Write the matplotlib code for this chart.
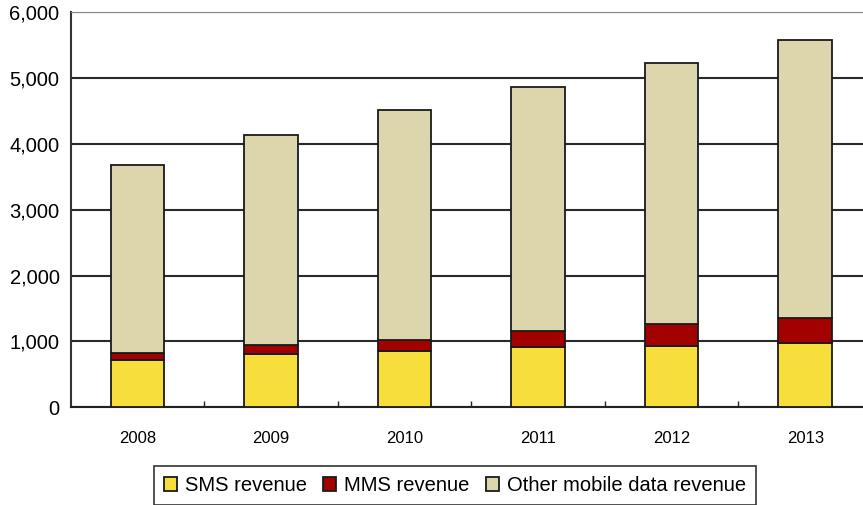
import matplotlib.pyplot as plt
import numpy as np

# Datos (millones)
years = ['2008', '2009', '2010', '2011', '2012', '2013']
sms = [720, 803, 860, 910, 933, 970]
mms = [98, 150, 163, 245, 335, 380]
other = [2855, 3175, 3490, 3700, 3965, 4230]
yticks = [0, 1000, 2000, 3000, 4000, 5000, 6000]

plt.rcParams['font.family'] = ['Liberation Sans', 'DejaVu Sans']

fig = plt.figure(figsize=(8.63, 5.05), dpi=100)
ax = fig.add_axes([0.0819, 0.1935, 0.9285, 0.7826])

x = np.arange(len(years))
w = 0.4
ax.bar(x, sms, w, color='#F7DE3A', edgecolor='#1a1a1a', linewidth=1.3, label='SMS revenue', zorder=3)
ax.bar(x, mms, w, bottom=sms, color='#A30000', edgecolor='#1a1a1a', linewidth=1.3, label='MMS revenue', zorder=3)
bottom2 = np.array(sms) + np.array(mms)
ax.bar(x, other, w, bottom=bottom2, color='#DDD5AC', edgecolor='#1a1a1a', linewidth=1.3,
       label='Other mobile data revenue', zorder=3)

ax.set_xlim(-0.5, 5.5)
ax.set_ylim(0, 6000)
ax.set_yticks(yticks)
ax.set_yticklabels([f'{v:,}' for v in yticks], fontsize=14.5)
ax.set_xticks(x)
ax.set_xticklabels(years, fontsize=12)
ax.tick_params(axis='y', length=0, pad=8)
ax.tick_params(axis='x', length=0, pad=17)
# marcas pequeñas entre categorías
ax.set_xticks(np.arange(0.5, 5.5, 1), minor=True)
ax.tick_params(axis='x', which='minor', direction='in', length=4, width=1, color='#222222')

ax.yaxis.grid(True, color='#2a2a2a', linewidth=1.5, zorder=0)
ax.spines['right'].set_visible(False)
ax.spines['top'].set_color('#888888')
ax.spines['left'].set_color('#333333')
ax.spines['left'].set_linewidth(1.5)
ax.spines['bottom'].set_color('#222222')
ax.spines['bottom'].set_linewidth(1.5)

leg = fig.legend(loc='upper center', bbox_to_anchor=(455 / 863, 1 - 466 / 505), ncol=3,
                 fontsize=14.5, frameon=True, fancybox=False, edgecolor='black',
                 handlelength=0.65, handleheight=0.65, handletextpad=0.4, columnspacing=0.8,
                 borderpad=0.5, borderaxespad=0)
leg.get_frame().set_linewidth(1.2)

fig.savefig('out.png', dpi=100)
